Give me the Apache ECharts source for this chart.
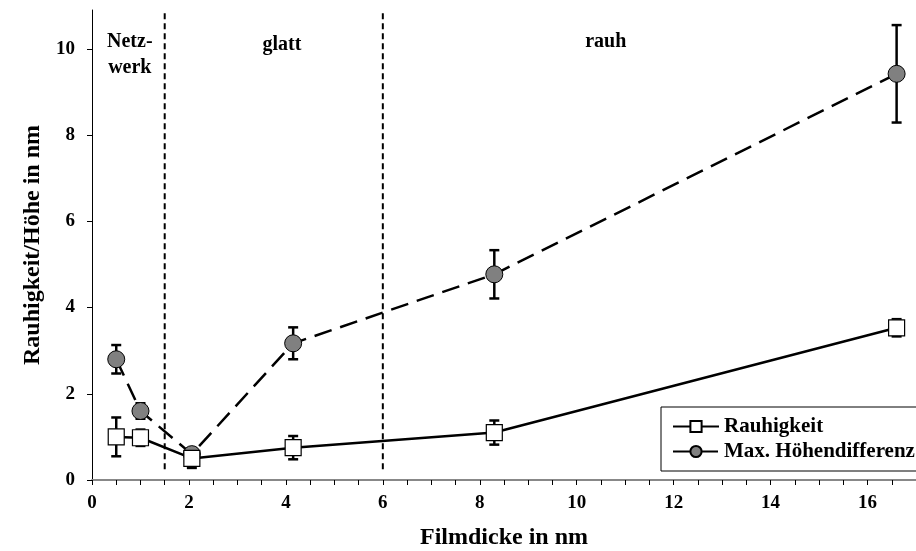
<!DOCTYPE html>
<html>
<head>
<meta charset="utf-8">
<script src="https://cdn.jsdelivr.net/npm/echarts@6/dist/echarts.min.js"></script>
<style>html,body{margin:0;padding:0;background:#fff}#c{width:916px;height:551px}</style>
</head>
<body>
<div id="c"></div>
<script>
const filmdicke = [0.5, 1.0, 2.06, 4.15, 8.3, 16.6];
const rauhigkeit = [1.0, 0.98, 0.5, 0.75, 1.1, 3.53];
const rauhErr = [0.45, 0.19, 0.22, 0.27, 0.28, 0.2];
const hoehe = [2.8, 1.6, 0.6, 3.17, 4.77, 9.42];
const hoeheErr = [0.33, 0.18, 0.14, 0.37, 0.56, 1.13];
const seriesNames = ['Rauhigkeit', 'Max. Höhendifferenz'];
const regionBounds = [1.5, 6];
const regionNames = ['Netz-\nwerk', 'glatt', 'rauh'];
const regionLabelX = [0.78, 3.92, 10.6];
const regionLabelY = [9.87, 10.09, 10.16];
const xTickLabels = [0, 2, 4, 6, 8, 10, 12, 14, 16];
const xTicks = [0, 0.5, 1, 1.5, 2, 2.5, 3, 3.5, 4, 4.5, 5, 5.5, 6, 6.5, 7, 7.5, 8, 8.5, 9, 9.5, 10, 10.5, 11, 11.5, 12, 12.5, 13, 13.5, 14, 14.5, 15, 15.5, 16, 16.5, 17];
const yTickLabels = [0, 2, 4, 6, 8, 10];

const FONT = '"Liberation Serif", "Times New Roman", serif';
const chart = echarts.init(document.getElementById('c'));

function errData(ys, es) {
  return filmdicke.map((x, i) => [x, ys[i] - es[i], ys[i] + es[i]]);
}
function errRender(params, api) {
  const x = api.value(0);
  const lo = api.coord([x, api.value(1)]);
  const hi = api.coord([x, api.value(2)]);
  const hw = 5;
  const st = { stroke: '#000', lineWidth: 2.5 };
  return {
    type: 'group',
    children: [
      { type: 'line', shape: { x1: lo[0], y1: lo[1], x2: hi[0], y2: hi[1] }, style: st },
      { type: 'line', shape: { x1: lo[0] - hw, y1: lo[1], x2: lo[0] + hw, y2: lo[1] }, style: st },
      { type: 'line', shape: { x1: hi[0] - hw, y1: hi[1], x2: hi[0] + hw, y2: hi[1] }, style: st }
    ]
  };
}

const boundarySeries = regionBounds.map(b => ({
  type: 'line',
  data: [[b, 0.25], [b, 10.9]],
  symbol: 'none',
  silent: true,
  lineStyle: { color: '#000', width: 2, type: [6, 4] },
  z: 1
}));

chart.setOption({
  animation: false,
  backgroundColor: '#fff',
  grid: { left: 92, right: 0, top: 10, bottom: 71, containLabel: false, outerBoundsMode: 'none' },
  xAxis: {
    type: 'value', min: 0, max: 17,
    name: 'Filmdicke in nm', nameLocation: 'middle', nameGap: 46,
    nameTextStyle: { fontFamily: FONT, fontWeight: 'bold', fontSize: 24, color: '#000' },
    axisLine: { show: true, onZero: false, lineStyle: { color: '#888', width: 2 } },
    axisTick: { show: true, customValues: xTicks, length: 5, lineStyle: { color: '#000', width: 1 } },
    axisLabel: { customValues: xTickLabels, margin: 14, fontFamily: FONT, fontWeight: 'bold', fontSize: 19, color: '#000' },
    splitLine: { show: false }
  },
  yAxis: {
    type: 'value', min: 0, max: 10.9,
    name: 'Rauhigkeit/Höhe in nm', nameLocation: 'middle', nameGap: 46,
    nameTextStyle: { fontFamily: FONT, fontWeight: 'bold', fontSize: 24, color: '#000' },
    axisLine: { show: true, lineStyle: { color: '#000', width: 1 } },
    axisTick: { show: true, customValues: yTickLabels, length: 5, lineStyle: { color: '#000' } },
    axisLabel: { customValues: yTickLabels, margin: 17, fontFamily: FONT, fontWeight: 'bold', fontSize: 19, color: '#000' },
    splitLine: { show: false }
  },
  legend: {
    orient: 'vertical', left: 661, top: 407,
    data: seriesNames,
    backgroundColor: '#fff',
    borderColor: '#000', borderWidth: 1, borderRadius: 0,
    padding: [9, 6, 9, 11],
    itemGap: 4, itemWidth: 46, itemHeight: 14,
    textStyle: { fontFamily: FONT, fontWeight: 'bold', fontSize: 21, color: '#000' }
  },
  series: [
    ...boundarySeries,
    {
      type: 'custom', renderItem: errRender, data: errData(hoehe, hoeheErr),
      encode: { x: 0, y: [1, 2] }, silent: true, z: 2
    },
    {
      type: 'custom', renderItem: errRender, data: errData(rauhigkeit, rauhErr),
      encode: { x: 0, y: [1, 2] }, silent: true, z: 2
    },
    {
      name: seriesNames[1], type: 'line',
      data: filmdicke.map((x, i) => [x, hoehe[i]]),
      symbol: 'circle', symbolSize: 17,
      lineStyle: { color: '#000', width: 2.5, type: [18, 9] },
      itemStyle: { color: '#808080', borderColor: '#000', borderWidth: 1 },
      z: 3
    },
    {
      name: seriesNames[0], type: 'line',
      data: filmdicke.map((x, i) => [x, rauhigkeit[i]]),
      symbol: 'rect', symbolSize: 16,
      lineStyle: { color: '#000', width: 2.5, type: 'solid' },
      itemStyle: { color: '#fff', borderColor: '#000', borderWidth: 1.2 },
      z: 4
    },
    {
      type: 'scatter', silent: true, symbolSize: 1,
      itemStyle: { color: 'rgba(0,0,0,0)', opacity: 1 },
      data: regionNames.map((n, i) => ({ value: [regionLabelX[i], regionLabelY[i]], name: n })),
      label: {
        show: true, position: 'inside', formatter: p => p.name,
        fontFamily: FONT, fontWeight: 'bold', fontSize: 20, color: '#000', opacity: 1,
        textBorderWidth: 0, lineHeight: 26, align: 'center', verticalAlign: 'middle'
      },
      z: 5
    }
  ]
});
</script>
</body>
</html>
